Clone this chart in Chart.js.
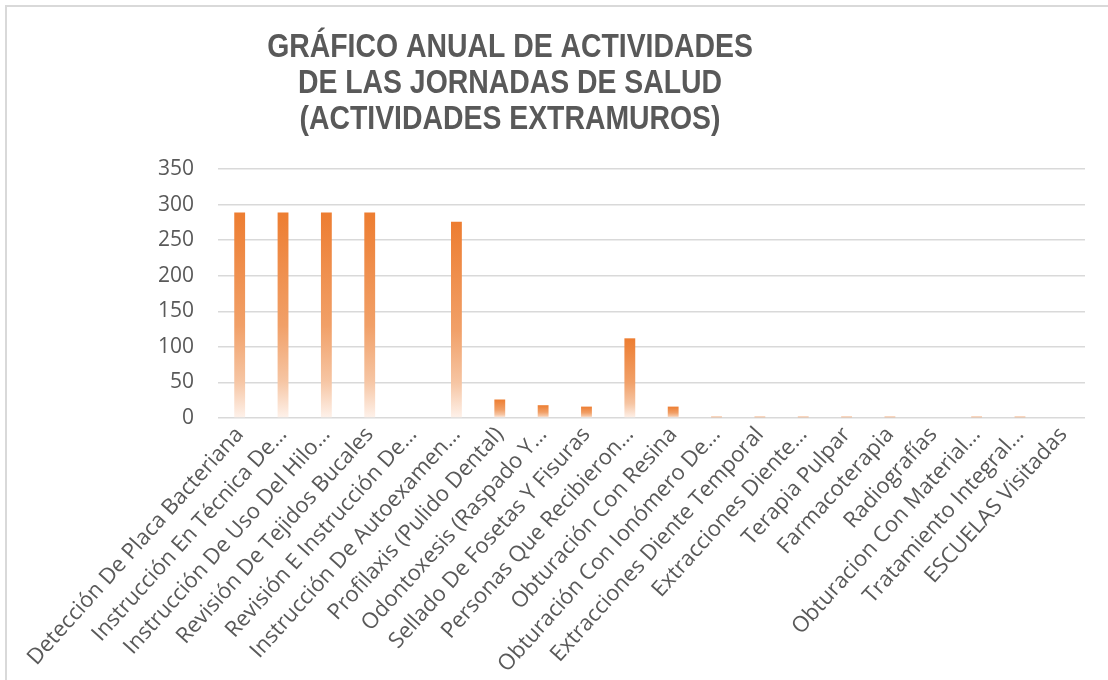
<!DOCTYPE html>
<html>
<head>
<meta charset="utf-8">
<script src="https://cdn.jsdelivr.net/npm/chart.js@4/dist/chart.umd.min.js"></script>
<style>
  html, body { margin: 0; padding: 0; background: #fff; overflow: hidden; }
  #frame { position: absolute; left: 5px; top: 5px; width: 1200px; height: 800px;
           border-top: 2px solid #d9d9d9; border-left: 2px solid #d9d9d9; }
  #wrap { position: absolute; left: 0; top: 0; width: 1108px; height: 680px; }
</style>
</head>
<body>
<div id="frame"></div>
<div id="wrap"><canvas id="chart" width="1108" height="680"></canvas></div>
<script>
// categories (as shown, already truncated by the source chart)
var activities = [
  "Detección De Placa Bacteriana",
  "Instrucción En Técnica De…",
  "Instrucción De Uso Del Hilo…",
  "Revisión De Tejidos Bucales",
  "Revisión E Instrucción De…",
  "Instrucción De Autoexamen…",
  "Profilaxis (Pulido Dental)",
  "Odontoxesis (Raspado Y…",
  "Sellado De Fosetas Y Fisuras",
  "Personas Que Recibieron…",
  "Obturación Con Resina",
  "Obturación Con Ionómero De…",
  "Extracciones Diente Temporal",
  "Extracciones Diente…",
  "Terapia Pulpar",
  "Farmacoterapia",
  "Radiografías",
  "Obturacion Con Material…",
  "Tratamiento Integral…",
  "ESCUELAS Visitadas"
];
var totals = [289, 289, 289, 289, 0, 276, 26, 18, 16, 112, 16, 2, 2, 2, 2, 2, 0, 2, 2, 0];
var titleLines = ["GRÁFICO ANUAL DE ACTIVIDADES", "DE LAS JORNADAS DE SALUD", "(ACTIVIDADES EXTRAMUROS)"];
var yMax = 350;
var yStep = 50;

var orange = "#ED7D31";

// gradient from orange at the bar top to near white at its base
function barFill(ctx) {
  var chart = ctx.chart;
  var y = chart.scales.y;
  if (!chart.chartArea || !y || ctx.raw == null) return orange;
  var top = y.getPixelForValue(ctx.raw);
  var base = y.getPixelForValue(0);
  if (Math.abs(base - top) < 1) return orange;
  if (Math.abs(base - top) < 5) return "rgb(241,158,100)"; // tiny bars read as flat light orange
  var g = chart.ctx.createLinearGradient(0, top, 0, base);
  g.addColorStop(0, "rgb(237,125,49)");
  g.addColorStop(0.55, "rgb(241,160,104)");
  g.addColorStop(0.82, "rgb(246,197,163)");
  g.addColorStop(1, "rgb(254,242,235)");
  return g;
}

// title is drawn slightly condensed, centred like the original
var titlePlugin = {
  id: "condensedTitle",
  afterDraw: function(chart) {
    var c = chart.ctx;
    c.save();
    c.fillStyle = "#595959";
    c.font = "bold 33px 'Liberation Sans', Arial, sans-serif";
    c.textAlign = "center";
    c.textBaseline = "alphabetic";
    titleLines.forEach(function(line, i) {
      c.save();
      c.translate(510, 57 + i * 36);
      c.scale(0.86, 1);
      c.fillText(line, 0, 0);
      c.restore();
    });
    c.restore();
  }
};

new Chart(document.getElementById("chart"), {
  type: "bar",
  data: {
    labels: activities,
    datasets: [{
      data: totals,
      backgroundColor: barFill,
      borderWidth: 0,
      categoryPercentage: 1,
      barPercentage: 0.25
    }]
  },
  plugins: [titlePlugin],
  options: {
    responsive: false,
    animation: false,
    layout: { padding: { left: 158, right: 23, top: 169, bottom: 0 } },
    plugins: {
      legend: { display: false },
      tooltip: { enabled: false },
      title: { display: false }
    },
    scales: {
      x: {
        grid: { display: false, drawTicks: false },
        border: { display: false },
        ticks: {
          color: "#595959",
          font: { family: "'Open Sans', sans-serif", size: 22 },
          minRotation: 48,
          maxRotation: 48,
          autoSkip: false,
          padding: 4
        },
        afterFit: function(scale) {
          scale.paddingLeft = 0;
          scale.paddingRight = 0;
          scale.height = 262;
        }
      },
      y: {
        min: 0,
        max: yMax,
        grid: { color: "#d9d9d9", lineWidth: 1.5, drawTicks: false },
        border: { display: false },
        ticks: {
          stepSize: yStep,
          color: "#595959",
          font: { family: "'Open Sans', sans-serif", size: 21 },
          padding: 24
        },
        afterFit: function(scale) {
          scale.width = 60;
          scale.paddingTop = 0;
          scale.paddingBottom = 0;
        }
      }
    }
  }
});
</script>
</body>
</html>
